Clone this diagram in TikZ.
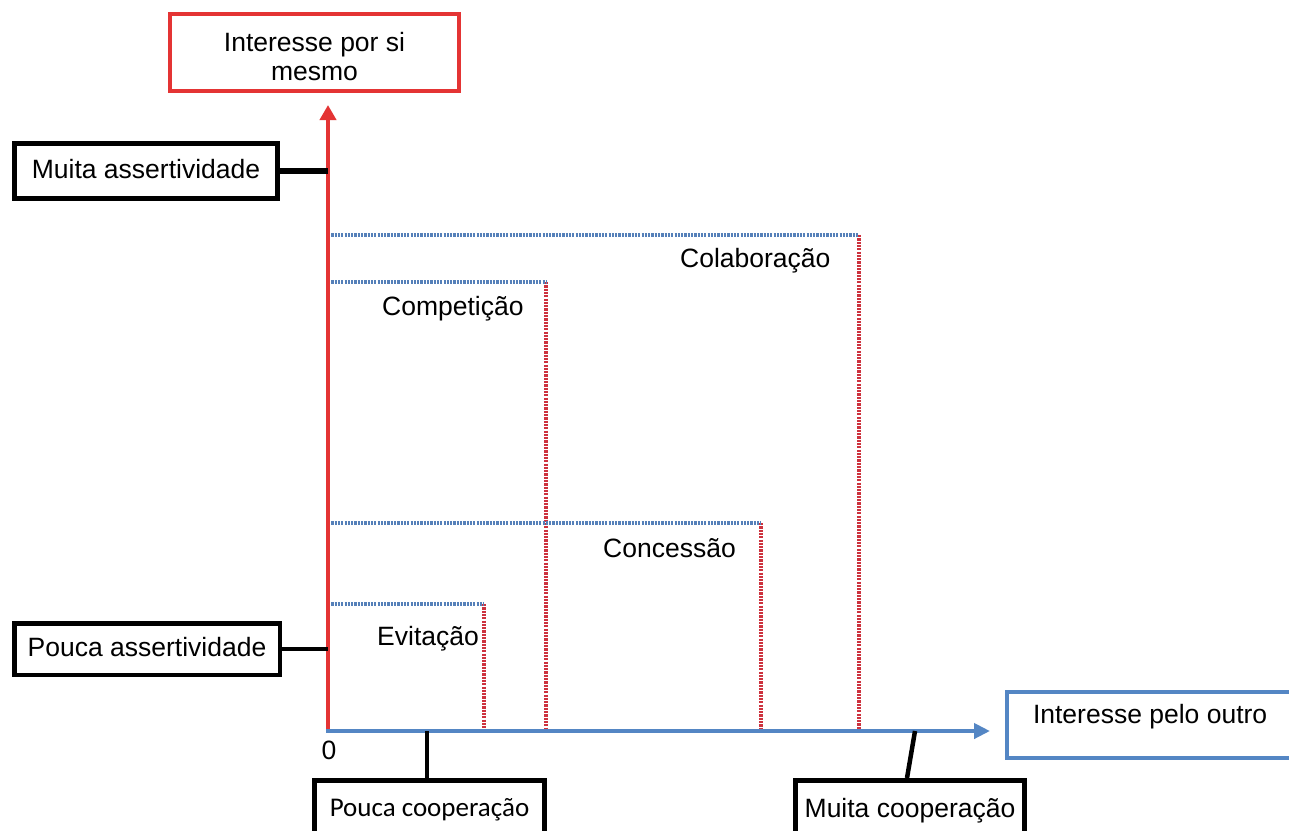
\documentclass[tikz,border=0pt]{standalone}
\usepackage{fontspec}
\setmainfont{Liberation Sans}
\newfontfamily\calfont{Carlito}
\usetikzlibrary{arrows.meta}
\definecolor{axred}{RGB}{228,52,52}
\definecolor{axblue}{RGB}{84,134,196}
\definecolor{dotblue}{RGB}{85,128,185}
\definecolor{dotred}{RGB}{205,50,62}
\begin{document}
\begin{tikzpicture}[x=1pt,y=-1pt,
  lbl/.style={font=\fontsize{26.5}{29}\selectfont, text=black},
  boxk/.style={draw=black, line width=5pt, inner sep=0pt, text height=19pt, text depth=5pt, font=\fontsize{26.5}{29}\selectfont},
  dotb/.style={draw=dotblue, line width=4pt, dash pattern=on 2.2pt off 1.1pt},
  dotr/.style={draw=dotred, line width=4pt, dash pattern=on 2.2pt off 1.1pt},
  region/.style={lbl, anchor=base west, inner sep=0pt},
  conn/.style={draw=black, line width=4.5pt}]
\path[use as bounding box, clip] (0,0) rectangle (1289,830);
\fill[white] (0,0) rectangle (1289,830);

% axis points
\coordinate (O) at (328,731);
\coordinate (ytip) at (328,105);
\coordinate (xtip) at (990,731);

% region lines
\coordinate (colY) at (328,235); \coordinate (colC) at (859,235); \coordinate (colX) at (859,731);
\coordinate (cmpY) at (328,282); \coordinate (cmpC) at (546,282); \coordinate (cmpX) at (546,731);
\coordinate (conY) at (328,523); \coordinate (conC) at (761,523); \coordinate (conX) at (761,731);
\coordinate (eviY) at (328,604); \coordinate (eviC) at (484,604); \coordinate (eviX) at (484,731);

\draw[dotr] (cmpC) -- (cmpX);
\draw[dotr] (colC) -- (colX);
\draw[dotr] (conC) -- (conX);
\draw[dotr] (eviC) -- (eviX);
\draw[dotb] (colY) -- (colC);
\draw[dotb] (cmpY) -- (cmpC);
\draw[dotb] (conY) -- (conC);
\draw[dotb] (eviY) -- (eviC);

\node[region] (colab) at (680,267) {Colaboração};
\node[region] (compet) at (382,315) {Competição};
\node[region] (conces) at (603,557) {Concessão};
\node[region] (evita) at (377,645) {Evitação};

% axes
\draw[axred, line width=4.5pt, -{Triangle[length=15pt,width=16pt]}] (O) -- (ytip);
\draw[axblue, line width=4pt, -{Triangle[length=16pt,width=15pt]}] ([xshift=-2.25pt]O) -- (xtip);

\node[lbl, inner sep=0pt] (zero) at (329,750) {0};

% top box
\node[draw=axred, line width=4pt, minimum width=289pt, minimum height=77pt, align=center,
      inner sep=0pt, text height=56pt, font=\fontsize{26.5}{29}\selectfont] (self) at (314.5,52.5) {Interesse por si\\mesmo};

% left boxes
\node[boxk, minimum width=263pt, minimum height=55pt] (muitaA) at (146,171) {Muita assertividade};
\draw[conn, line width=6pt] (muitaA.east) -- (muitaA.east -| O);

\node[boxk, line width=4.5pt, minimum width=265.5pt, minimum height=51.5pt] (poucaA) at (147,649) {Pouca assertividade};
\draw[conn] (poucaA.east) -- (poucaA.east -| O);

% bottom boxes
\node[boxk, anchor=north, minimum width=230pt, text height=17pt, text depth=10pt, inner ysep=18.5pt,
      font=\calfont\fontsize{27}{29}\selectfont] (pcoop) at (429.5,778) {Pouca cooperação};
\coordinate (pc) at (427,731);
\draw[conn] (pc) -- (pc |- pcoop.north);

\node[boxk, anchor=north, minimum width=229pt, text height=19pt, text depth=10pt, inner ysep=17.5pt] (mcoop) at (910,778) {Muita cooperação};
\coordinate (mc) at (915,731);
\draw[conn] (mc) -- ([xshift=-3pt]mcoop.north);

% right box
\node[draw=axblue, line width=4pt, anchor=west, inner xsep=26pt, inner ysep=12pt,
      text height=19pt, text depth=23pt, font=\fontsize{26.5}{29}\selectfont] (other) at (1005,725) {Interesse pelo outro};
\end{tikzpicture}
\end{document}
